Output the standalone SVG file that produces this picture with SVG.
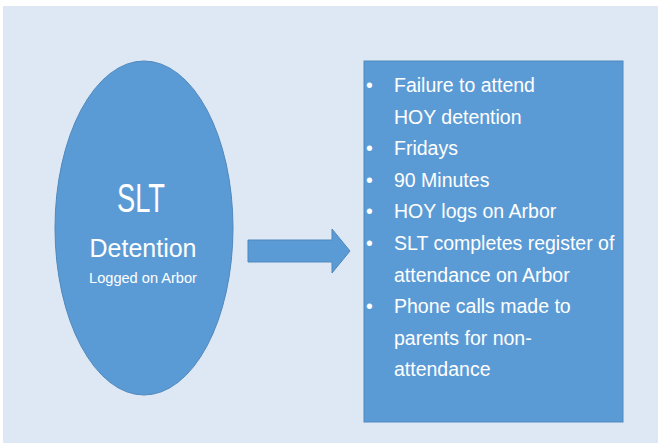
<svg xmlns="http://www.w3.org/2000/svg" width="658" height="443" viewBox="0 0 658 443">
<style>
.shape{fill:#5b9bd5;stroke:#4f88bd;stroke-width:1}
.t{fill:#ffffff;font-family:"Liberation Sans",Arial,sans-serif}
.b{font-size:19.5px}
</style>
<rect x="0" y="0" width="658" height="443" fill="#ffffff"/>
<rect x="3" y="6" width="655" height="437" fill="#dee8f4"/>
<g id="node-slt">
<ellipse class="shape" cx="144" cy="228" rx="89" ry="167"/>
<text class="t" x="141" y="212" font-size="40" text-anchor="middle" textLength="48" lengthAdjust="spacingAndGlyphs">SLT</text>
<text class="t" x="143" y="257" font-size="25" text-anchor="middle">Detention</text>
<text class="t" x="143" y="283" font-size="14.6" text-anchor="middle">Logged on Arbor</text>
</g>
<g id="connectors">
<polygon class="shape" points="248,240 332,240 332,229 350,251 332,273 332,262 248,262"/>
</g>
<g id="node-details">
<rect class="shape" x="364" y="61" width="259" height="361"/>
<g class="t b">
<text x="366" y="92">•</text><text x="394" y="92">Failure to attend</text>
<text x="394" y="123.5">HOY detention</text>
<text x="366" y="155">•</text><text x="394" y="155">Fridays</text>
<text x="366" y="186.5">•</text><text x="394" y="186.5">90 Minutes</text>
<text x="366" y="218">•</text><text x="394" y="218">HOY logs on Arbor</text>
<text x="366" y="250">•</text><text x="394" y="250">SLT completes register of</text>
<text x="394" y="281.5">attendance on Arbor</text>
<text x="366" y="313">•</text><text x="394" y="313">Phone calls made to</text>
<text x="394" y="344.5">parents for non-</text>
<text x="394" y="376">attendance</text>
</g>
</g>
</svg>
